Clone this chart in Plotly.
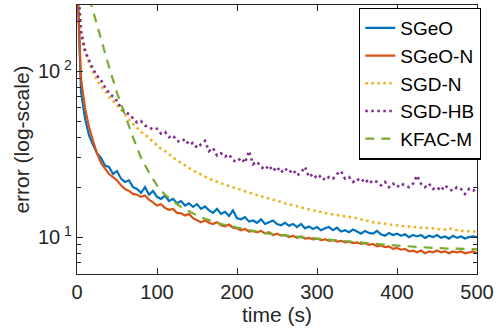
import plotly.graph_objects as go

t5 = list(range(0, 505, 5))

sgeo = [400, 75, 52, 41, 36, 32, 30, 27, 26.5, 24, 25, 22.5, 21.5, 22, 20, 19.5, 18.5, 20, 18, 19,
        17.5, 17, 17.8, 16.5, 17, 16, 16.5, 15.5, 16, 15.2, 15.8, 14.8, 15.3, 14.5, 14, 14.8, 13.8, 14.2, 13.4, 14.5,
        13.0, 12.8, 13.2, 12.4, 12.6, 12.2, 12.8, 12.0, 12.3, 12.6, 12.0, 11.8, 12.2, 11.7, 12.0, 11.5, 12.0, 11.3, 11.6, 11.2,
        11.5, 11.0, 11.3, 11.5, 11.0, 11.4, 10.8, 11.0, 10.7, 11.1, 10.8, 10.5, 10.9, 10.6, 10.5, 10.9, 10.4, 10.2, 10.6, 10.3,
        10.5, 10.2, 10.4, 10.0, 10.3, 10.1, 10.3, 9.9, 10.2, 10.0, 10.3, 9.9, 10.1, 9.8, 10.2, 9.9, 10.1, 9.8, 10.0, 10.1,
        10.0]

sgeo_n = [400, 90, 60, 46, 38, 32, 28, 26, 24, 23, 22, 20.5, 19.5, 19.0, 18.2, 18.0, 17.5, 17.8, 16.8, 16.2,
          15.5, 15.8, 15.0, 14.6, 14.8, 14.0, 13.9, 13.5, 13.8, 13.0, 12.6, 12.3, 12.6, 12.2, 12.0, 12.3, 11.8, 11.6, 11.9, 11.4,
          11.3, 11.0, 11.2, 10.8, 10.9, 10.7, 10.9, 10.5, 10.7, 10.3, 10.5, 10.2, 10.3, 10.0, 10.2, 9.9, 10.1, 9.8, 9.9, 9.7,
          9.8, 9.6, 9.7, 9.5, 9.6, 9.4, 9.5, 9.3, 9.4, 9.2, 9.3, 9.1, 9.2, 9.0, 9.1, 8.8, 8.9, 8.7, 8.8, 8.5,
          8.6, 8.4, 8.5, 8.2, 8.3, 8.1, 8.3, 8.0, 8.2, 8.1, 8.3, 8.1, 8.2, 8.0, 8.2, 8.1, 8.2, 8.0, 8.1, 8.2,
          8.0]

sgd_n = [400, 180, 135, 112, 98, 88, 81, 76, 70, 66, 62, 59, 55, 51, 48, 45, 43, 41.5, 39.5, 37.5,
         36, 34, 33, 31.5, 30, 29, 28, 27, 26, 25.2, 24.5, 23.8, 23, 22.5, 22, 21.5, 21, 20.7, 20.3, 20,
         19.8, 19.3, 18.9, 18.5, 18.2, 17.9, 17.6, 17.4, 17.1, 16.8, 16.6, 16.3, 16.0, 15.8, 15.6, 15.4, 15.1, 14.9, 14.7, 14.5,
         14.3, 14.1, 13.9, 13.8, 13.7, 13.6, 13.5, 13.4, 13.2, 13.1, 13.0, 12.8, 12.7, 12.5, 12.3, 12.2, 12.1, 12.0, 11.9, 11.8,
         11.8, 11.7, 11.6, 11.6, 11.5, 11.5, 11.4, 11.4, 11.4, 11.3, 11.2, 11.2, 11.1, 11.3, 11.1, 11.0, 10.9, 10.9, 10.8, 10.8,
         10.8]

sgd_hb = [400, 170, 132, 115, 103, 94, 88, 80, 74, 70, 66, 60, 57, 55, 52, 49, 50, 47, 46, 44.5,
          45, 42, 43, 40, 41, 38, 37.5, 39, 36, 37, 34.5, 36, 38, 33, 34.5, 31, 32, 30.5, 31.5, 29,
          28.5, 30, 28, 33, 27.5, 28.5, 26.5, 25.5, 27, 25, 26.5, 24.5, 26, 24.5, 25.5, 23.5, 24.5, 26.5, 23, 24,
          22.5, 23.5, 22, 23, 22.5, 24, 25, 22.5, 23, 21.5, 22.5, 21.5, 22.5, 21, 22, 21.5, 20.5, 21.5, 20, 21,
          20, 21, 20.5, 20, 21, 23.5, 21, 20, 21, 19.5, 20, 19, 20.5, 19.5, 19, 20, 19.5, 18.2, 19.5, 19,
          19.6]

t_kfac = [10, 20, 30, 40, 50, 60, 70, 80, 90, 100, 110, 120, 130, 140, 150, 160, 170, 180, 190, 200,
          220, 240, 260, 280, 300, 320, 340, 360, 380, 400, 420, 440, 460, 480, 500]
kfac_m = [340, 230, 155, 106, 74, 54, 40, 30, 24.5, 20.5, 18, 16.5, 15.2, 14.3, 13.5, 12.9, 12.4, 12.0, 11.7, 11.4,
          10.9, 10.5, 10.2, 10.0, 9.8, 9.6, 9.35, 9.2, 9.05, 8.9, 8.75, 8.65, 8.55, 8.5, 8.45]

names = ["SGeO", "SGeO-N", "SGD-N", "SGD-HB", "KFAC-M"]
colors = ["#0072BD", "#D95319", "#EDB120", "#7E2F8E", "#77AC30"]

fig = go.Figure()
fig.add_trace(go.Scatter(x=t5, y=sgeo, name=names[0], mode="lines",
                         line=dict(color=colors[0], width=2.2)))
fig.add_trace(go.Scatter(x=t5, y=sgeo_n, name=names[1], mode="lines",
                         line=dict(color=colors[1], width=2.2)))
fig.add_trace(go.Scatter(x=t5, y=sgd_n, name=names[2], mode="lines",
                         line=dict(color=colors[2], width=2.6, dash="2.5px,3.5px")))
fig.add_trace(go.Scatter(x=t5, y=sgd_hb, name=names[3], mode="lines",
                         line=dict(color=colors[3], width=2.6, dash="2.5px,3.5px")))
fig.add_trace(go.Scatter(x=t_kfac, y=kfac_m, name=names[4], mode="lines",
                         line=dict(color=colors[4], width=2.2, dash="9px,7px")))

axcol = "#262626"
fig.update_layout(
    width=498, height=332,
    margin=dict(l=77, r=16, t=4, b=58),
    paper_bgcolor="white", plot_bgcolor="white",
    font=dict(family="Liberation Sans, Arial, sans-serif", size=20, color=axcol),
    showlegend=True,
    legend=dict(x=0.705, y=0.99, xanchor="left", yanchor="top",
                bgcolor="white", bordercolor="black", borderwidth=1.3,
                font=dict(size=19, color="black"), itemwidth=30,
                tracegroupgap=0),
)
fig.update_xaxes(
    range=[0, 500], tickvals=[0, 100, 200, 300, 400, 500],
    ticks="inside", ticklen=6, tickcolor=axcol, tickwidth=1.2,
    showline=True, linecolor=axcol, linewidth=1.3, mirror="allticks",
    showgrid=False, zeroline=False, ticklabeloverflow="allow",
    title=dict(text="time (s)", font=dict(size=21), standoff=4),
    tickfont=dict(size=20),
)
fig.update_yaxes(
    type="log", range=[0.778, 2.398],
    tickvals=[10, 100], ticktext=["10<sup> 1</sup>", "10<sup> 2</sup>"],
    ticks="inside", ticklen=6, tickcolor=axcol, tickwidth=1.2,
    minor=dict(tickvals=[6, 7, 8, 9, 20, 30, 40, 50, 60, 70, 80, 90, 200],
               ticks="inside", ticklen=4, tickcolor=axcol, tickwidth=1.2),
    showline=True, linecolor=axcol, linewidth=1.3, mirror="allticks",
    showgrid=False, zeroline=False,
    title=dict(text="error (log-scale)", font=dict(size=21), standoff=2),
    tickfont=dict(size=20),
)
fig.write_html("out.html")
